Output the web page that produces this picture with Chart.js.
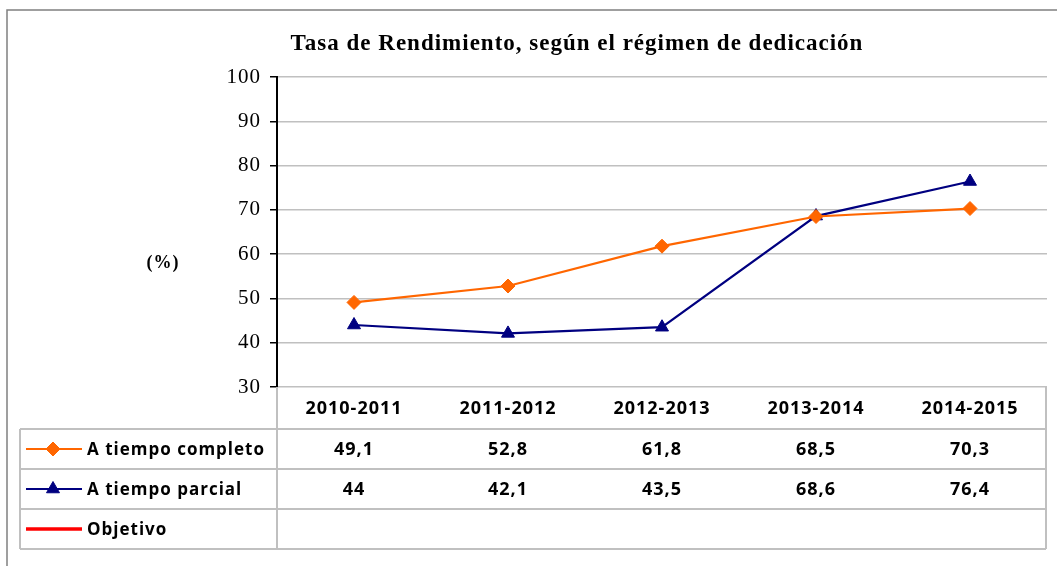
<!DOCTYPE html>
<html>
<head>
<meta charset="utf-8">
<script src="https://cdn.jsdelivr.net/npm/chart.js@4.4.1/dist/chart.umd.min.js"></script>
<style>
  html, body { margin: 0; padding: 0; background: #fff; }
  canvas { display: block; }
</style>
</head>
<body>
<canvas id="rendimiento" width="1057" height="566"></canvas>
<script>
// cursos y series
const cursos = ['2010-2011', '2011-2012', '2012-2013', '2013-2014', '2014-2015'];
const tiempoCompleto = [49.1, 52.8, 61.8, 68.5, 70.3];
const tiempoParcial = [44, 42.1, 43.5, 68.6, 76.4];
const objetivo = [null, null, null, null, null];
const yTicks = [30, 40, 50, 60, 70, 80, 90, 100];

const SERIF = '"Liberation Serif", "Times New Roman", serif';
const SANS = '"Open Sans", sans-serif';

function fmt(v) {
  return v == null ? '' : String(v).replace('.', ',');
}

// marco, titulo y rotulo (%)
const marco = {
  id: 'marco',
  beforeDraw(chart) {
    const ctx = chart.ctx;
    ctx.letterSpacing = '1px';
    ctx.save();
    ctx.strokeStyle = '#808080';
    ctx.lineWidth = 1.5;
    ctx.beginPath();
    ctx.moveTo(7, chart.height);
    ctx.lineTo(7, 10);
    ctx.lineTo(chart.width, 10);
    ctx.stroke();
    ctx.restore();
  },
  afterDraw(chart) {
    const ctx = chart.ctx;
    ctx.save();
    ctx.fillStyle = '#000';
    ctx.textAlign = 'center';
    ctx.textBaseline = 'middle';
    ctx.font = 'bold 23px ' + SERIF;
    ctx.fillText('Tasa de Rendimiento, según el régimen de dedicación', 577, 44);
    ctx.font = 'bold 18px ' + SERIF;
    ctx.fillText('(%)', 163, 263);
    ctx.restore();
  }
};

// tabla de datos bajo el eje
const tablaDatos = {
  id: 'tablaDatos',
  afterDraw(chart) {
    const ctx = chart.ctx;
    const x = chart.scales.x;
    const area = chart.chartArea;
    const sets = chart.data.datasets;
    const headH = 42, rowH = 40, left = 20;
    const rowsTop = area.bottom + headH;
    const bottom = rowsTop + sets.length * rowH;

    ctx.save();
    ctx.strokeStyle = '#c0c0c0';
    ctx.lineWidth = 2;
    ctx.beginPath();
    ctx.moveTo(area.left, area.bottom); ctx.lineTo(area.left, bottom);
    ctx.moveTo(area.right - 1, area.bottom); ctx.lineTo(area.right - 1, bottom);
    ctx.moveTo(left, rowsTop); ctx.lineTo(left, bottom);
    for (let i = 0; i <= sets.length; i++) {
      ctx.moveTo(left, rowsTop + i * rowH);
      ctx.lineTo(area.right - 1, rowsTop + i * rowH);
    }
    ctx.stroke();

    sets.forEach((ds, r) => {
      const cy = rowsTop + r * rowH + rowH / 2;
      // clave de la serie
      ctx.strokeStyle = ds.borderColor;
      ctx.lineWidth = ds.borderWidth;
      ctx.beginPath();
      ctx.moveTo(26, cy); ctx.lineTo(82, cy);
      ctx.stroke();
      if (ds.pointRadius > 0) {
        ctx.fillStyle = ds.backgroundColor;
        ctx.lineWidth = ds.pointBorderWidth;
        Chart.helpers.drawPoint(ctx, {
          pointStyle: ds.pointStyle, radius: ds.pointRadius,
          borderWidth: ds.pointBorderWidth, rotation: 0
        }, 53, cy);
      }
      ctx.fillStyle = '#000';
      ctx.textBaseline = 'middle';
      ctx.textAlign = 'left';
      ctx.font = 'bold 17px ' + SANS;
      ctx.fillText(ds.label, 87, cy + 1);
      ctx.textAlign = 'center';
      ctx.font = 'bold 18px ' + SANS;
      ds.data.forEach((v, i) => {
        ctx.fillText(fmt(v), x.getPixelForValue(i), cy + 1);
      });
    });
    ctx.restore();
    ctx.letterSpacing = '0px';
  }
};

new Chart(document.getElementById('rendimiento'), {
  type: 'line',
  data: {
    labels: cursos,
    datasets: [
      {
        label: 'A tiempo completo',
        data: tiempoCompleto,
        borderColor: '#ff6600',
        backgroundColor: '#ff6600',
        borderWidth: 2.2,
        pointStyle: 'rectRot',
        pointRadius: 7,
        pointBorderWidth: 1,
        tension: 0
      },
      {
        label: 'A tiempo parcial',
        data: tiempoParcial,
        borderColor: '#000080',
        backgroundColor: '#000080',
        borderWidth: 2.2,
        pointStyle: 'triangle',
        pointRadius: 7.5,
        pointBorderWidth: 1,
        tension: 0
      },
      {
        label: 'Objetivo',
        data: objetivo,
        borderColor: '#ff0000',
        backgroundColor: '#ff0000',
        borderWidth: 3.5,
        pointRadius: 0,
        pointBorderWidth: 0
      }
    ]
  },
  options: {
    responsive: false,
    animation: false,
    layout: { padding: { top: 77, right: 10, bottom: 0, left: 0 } },
    plugins: {
      legend: { display: false },
      title: { display: false },
      tooltip: { enabled: false }
    },
    scales: {
      x: {
        offset: true,
        grid: { display: false, drawTicks: false },
        border: { display: false },
        ticks: {
          color: '#000',
          font: { family: SANS, size: 18, weight: 'bold' },
          padding: 11,
          maxRotation: 0
        },
        afterFit(scale) { scale.height = 179; }
      },
      y: {
        min: 30,
        max: 100,
        afterBuildTicks(scale) { scale.ticks = yTicks.map(v => ({ value: v })); },
        grid: { color: '#c0c0c0', lineWidth: 1.5, tickColor: '#000', tickLength: 7 },
        border: { display: true, color: '#000', width: 2 },
        ticks: {
          color: '#000',
          font: { family: SERIF, size: 21 },
          padding: 9
        },
        afterFit(scale) { scale.width = 277; }
      }
    }
  },
  plugins: [marco, tablaDatos]
});
</script>
</body>
</html>
